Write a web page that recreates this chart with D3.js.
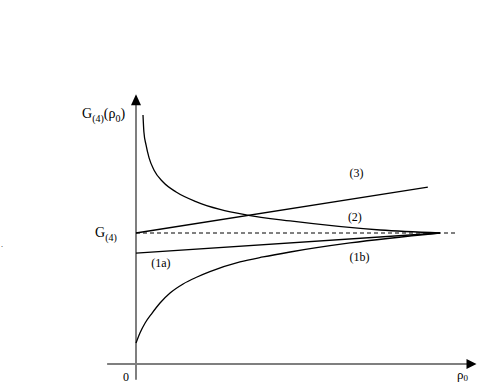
<!DOCTYPE html>
<html>
<head>
<meta charset="utf-8">
<script src="https://cdn.jsdelivr.net/npm/d3@7"></script>
<style>
  body { margin: 0; background: #fff; }
  svg { display: block; }
  svg text { font-family: 'Liberation Serif', 'DejaVu Serif', serif; }
</style>
</head>
<body>
<div class="osvg"></div>
<script>
// values (rho0 in arbitrary units, G normalised so G(4) = 1)
var gLimit = 1.0;
var rhoEnd = 10;
var line3 = [[0, 1.0], [9.6, 1.351]];
var line1a = [[0, 0.847], [10, 1.0]];
var curve2 = [[0.23, 1.901], [0.26, 1.771], [0.33, 1.672], [0.43, 1.573], [0.59, 1.481], [0.89, 1.389],
    [1.32, 1.313], [1.97, 1.240], [2.76, 1.180], [3.65, 1.137], [5.07, 1.092], [8.03, 1.023], [10, 1.0]];
var curve1b = [[0.0, 0.160], [0.13, 0.237], [0.30, 0.313], [0.53, 0.389], [0.79, 0.466], [1.12, 0.542],
    [1.55, 0.611], [2.01, 0.664], [2.43, 0.705], [3.42, 0.779], [4.18, 0.817], [5.07, 0.855], [7.04, 0.924], [10, 1.0]];
var curveLabels = [
    { text: "(3)", x: 7.25, y: 1.43 },
    { text: "(2)", x: 7.2, y: 1.09 },
    { text: "(1b)", x: 7.35, y: 0.785 },
    { text: "(1a)", x: 0.82, y: 0.74 }
];

var width = 479, height = 383;

var x = d3.scaleLinear().domain([0, rhoEnd]).range([136, 440]);
var y = d3.scaleLinear().domain([0, gLimit]).range([364, 233]);

var svg = d3.select('.osvg').append('svg')
    .attr('width', width)
    .attr('height', height);

var axisColor = '#7f7f7f';

// axes
svg.append('line')
    .attr('x1', x(-0.95)).attr('x2', x(11.0))
    .attr('y1', y(0)).attr('y2', y(0))
    .attr('stroke', axisColor).attr('stroke-width', 2);

svg.append('line')
    .attr('x1', x(0)).attr('x2', x(0))
    .attr('y1', y(-0.12)).attr('y2', y(1.98))
    .attr('stroke', axisColor).attr('stroke-width', 2);

// arrow heads
var xe = x(11.2), ye = y(2.06);
svg.append('path')
    .attr('d', 'M' + xe + ',' + y(0) + 'L' + (xe - 10) + ',' + (y(0) - 5) + 'L' + (xe - 10) + ',' + (y(0) + 5) + 'Z')
    .attr('fill', '#000');
svg.append('path')
    .attr('d', 'M' + x(0) + ',' + ye + 'L' + (x(0) - 5) + ',' + (ye + 11) + 'L' + (x(0) + 5) + ',' + (ye + 11) + 'Z')
    .attr('fill', '#000');

// dashed asymptote
svg.append('line')
    .attr('x1', x(0)).attr('x2', x(10.5))
    .attr('y1', y(gLimit)).attr('y2', y(gLimit))
    .attr('stroke', '#000').attr('stroke-width', 1)
    .attr('stroke-dasharray', '4,3');

var lineGen = d3.line()
    .x(function (d) { return x(d[0]); })
    .y(function (d) { return y(d[1]); });

var curveGen = d3.line()
    .curve(d3.curveMonotoneX)
    .x(function (d) { return x(d[0]); })
    .y(function (d) { return y(d[1]); });

[line3, line1a].forEach(function (d) {
    svg.append('path').datum(d)
        .attr('d', lineGen)
        .attr('fill', 'none').attr('stroke', '#000').attr('stroke-width', 1.3);
});
[curve2, curve1b].forEach(function (d) {
    svg.append('path').datum(d)
        .attr('d', curveGen)
        .attr('fill', 'none').attr('stroke', '#000').attr('stroke-width', 1.3);
});

// curve labels
svg.selectAll('.clabel')
    .data(curveLabels)
    .enter().append('text')
    .attr('class', 'clabel')
    .attr('x', function (d) { return x(d.x); })
    .attr('y', function (d) { return y(d.y); })
    .attr('text-anchor', 'middle')
    .style('font-size', '12px')
    .text(function (d) { return d.text; });

// axis labels
var yl = svg.append('text').attr('x', 82).attr('y', 118).style('font-size', '14px');
yl.append('tspan').text('G');
yl.append('tspan').attr('dy', 4).style('font-size', '10px').text('(4)');
yl.append('tspan').attr('dy', -4).text('(ρ');
yl.append('tspan').attr('dy', 4).style('font-size', '10px').text('0');
yl.append('tspan').attr('dy', -4).text(')');

var gl = svg.append('text').attr('x', 95).attr('y', 237).style('font-size', '14px');
gl.append('tspan').text('G');
gl.append('tspan').attr('dy', 4).style('font-size', '10px').text('(4)');

svg.append('text').attr('x', 123).attr('y', 381).style('font-size', '12px').text('0');

var rl = svg.append('text').attr('x', 457).attr('y', 379).style('font-size', '13px');
rl.append('tspan').text('ρ');
rl.append('tspan').attr('dy', 2).style('font-size', '9px').text('0');

svg.append('text').attr('x', 1).attr('y', 247).style('font-size', '8px').text('.');
</script>
</body>
</html>
